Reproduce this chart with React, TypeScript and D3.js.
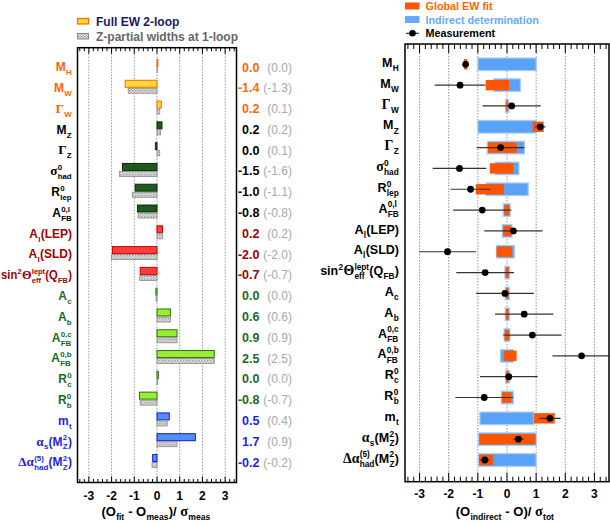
import React from 'react';
import * as d3 from 'd3';

// ---------- data ----------
const observables = [
  'M_{H}', 'M_{W}', 'Γ_{W}', 'M_{Z}', 'Γ_{Z}', 'σ^{0}_{had}', 'R^{0}_{lep}', 'A^{0,l}_{FB}',
  'A_{l}(LEP)', 'A_{l}(SLD)', 'sin^{2}Θ^{lept}_{eff}(Q_{FB})',
  'A_{c}', 'A_{b}', 'A^{0,c}_{FB}', 'A^{0,b}_{FB}', 'R^{0}_{c}', 'R^{0}_{b}',
  'm_{t}', 'α_{s}(M^{2}_{Z})', 'Δα^{(5)}_{had}(M^{2}_{Z})',
];
const groupIndex = [0, 0, 0, 1, 1, 1, 1, 1, 2, 2, 2, 3, 3, 3, 3, 3, 3, 4, 4, 4];

// left panel: pulls
const pullFull2Loop = [0.04, -1.4, 0.19, 0.22, -0.07, -1.52, -0.96, -0.86, 0.24, -1.96, -0.74, -0.05, 0.59, 0.88, 2.52, 0.06, -0.77, 0.54, 1.69, -0.19];
const pullZPartial1Loop = [0.02, -1.27, 0.12, 0.16, 0.12, -1.65, -1.08, -0.83, 0.24, -2.0, -0.76, -0.04, 0.59, 0.88, 2.52, 0.03, -0.74, 0.45, 0.88, -0.22];
const pullText = ['0.0', '-1.4', '0.2', '0.2', '0.0', '-1.5', '-1.0', '-0.8', '0.2', '-2.0', '-0.7', '0.0', '0.6', '0.9', '2.5', '0.0', '-0.8', '0.5', '1.7', '-0.2'];
const pull1LoopText = ['(0.0)', '(-1.3)', '(0.1)', '(0.2)', '(0.1)', '(-1.6)', '(-1.1)', '(-0.8)', '(0.2)', '(-2.0)', '(-0.7)', '(0.0)', '(0.6)', '(0.9)', '(2.5)', '(0.0)', '(-0.7)', '(0.4)', '(0.9)', '(-0.2)'];

// right panel: indirect determination, global fit, measurement
const indirectLo = [-1.0, -0.45, -0.05, -1.0, -0.68, -0.41, -0.72, -0.13, -0.16, -0.36, -0.07, -0.06, -0.06, -0.1, -0.22, -0.05, -0.2, -0.93, -0.98, -0.97];
const indirectHi = [1.0, 0.46, 0.06, 1.0, 0.6, 0.41, 0.73, 0.11, 0.17, 0.25, 0.09, 0.08, 0.08, 0.1, 0.22, 0.09, 0.22, 0.93, 1.0, 1.0];
const fitLo = [-1.48, -0.73, -0.03, 0.88, -0.65, -0.59, -1.07, -0.09, -0.13, -0.36, -0.05, -0.04, -0.04, -0.08, -0.1, -0.03, -0.17, 0.93, -0.95, -0.96];
const fitHi = [-1.36, 0.07, 0.04, 1.26, 0.34, 0.22, -0.1, 0.08, 0.15, 0.18, 0.06, 0.05, 0.05, 0.08, 0.33, 0.06, 0.15, 1.64, 0.98, -0.47];
const measurement = [-1.42, -1.61, 0.16, 1.14, -0.22, -1.63, -1.25, -0.85, 0.22, -2.04, -0.75, -0.07, 0.59, 0.87, 2.56, 0.06, -0.78, 1.47, 0.39, -0.76];
const measError = [0.05, 0.87, 1.0, 0.18, 0.82, 0.92, 0.69, 1.0, 1.0, 0.98, 0.99, 0.99, 1.0, 1.0, 1.0, 0.99, 0.99, 0.37, 0.18, 0.18];

const axisTicks = [-3, -2, -1, 0, 1, 2, 3];

// ---------- styles ----------
const labelColors = ['#ff6600', '#000000', '#a00000', '#1b6b1b', '#1f1fe6'];
const barFill = ['#ffd83a', '#1e5a1e', '#ff3c3c', '#99ee33', '#4f8ff7'];
const barStroke = ['#ff6600', '#0a2a0a', '#cc0000', '#2f6f0f', '#1a1acc'];
const SANS = '"Liberation Sans", Arial, Helvetica, sans-serif';
const SERIF = '"Liberation Serif", "Times New Roman", serif';

// ---------- rich text ----------
let ctx: CanvasRenderingContext2D | null = null;
function measure(text: string, font: string) {
  if (!ctx) ctx = document.createElement('canvas').getContext('2d');
  ctx!.font = font;
  return ctx!.measureText(text).width;
}
const isGreek = (c: string) => /[\u0370-\u03ff]/.test(c);

type Piece = { text: string; x: number; dy: number; size: number; family: string; weight: string };

function layout(markup: string, size: number) {
  const pieces: Piece[] = [];
  let x = 0;
  const small = size * 0.66;
  const pushMain = (s: string) => {
    let run = '';
    let runGreek = false;
    const flush = () => {
      if (!run) return;
      const fam = runGreek ? SERIF : SANS;
      const sz = runGreek ? size * 1.1 : size;
      const w = measure(run, `bold ${sz}px ${fam}`);
      pieces.push({ text: run, x, dy: 0, size: sz, family: fam, weight: 'bold' });
      x += w;
      run = '';
    };
    for (const c of s) {
      const g = isGreek(c);
      if (run && g !== runGreek) flush();
      runGreek = g;
      run += c;
    }
    flush();
  };
  let i = 0;
  let buf = '';
  while (i < markup.length) {
    const c = markup[i];
    if ((c === '^' || c === '_') && markup[i + 1] === '{') {
      pushMain(buf);
      buf = '';
      let sup = '';
      let sub = '';
      while (i < markup.length && (markup[i] === '^' || markup[i] === '_') && markup[i + 1] === '{') {
        const end = markup.indexOf('}', i);
        const content = markup.slice(i + 2, end);
        if (markup[i] === '^') sup = content; else sub = content;
        i = end + 1;
      }
      const font = `bold ${small}px ${SANS}`;
      const wSup = sup ? measure(sup, font) : 0;
      const wSub = sub ? measure(sub, font) : 0;
      if (sup) pieces.push({ text: sup, x: x + 0.3, dy: -size * 0.42, size: small, family: SANS, weight: 'bold' });
      if (sub) pieces.push({ text: sub, x: x + 0.3, dy: size * 0.33, size: small, family: SANS, weight: 'bold' });
      x += Math.max(wSup, wSub) + 0.6;
    } else {
      buf += c;
      i++;
    }
  }
  pushMain(buf);
  return { pieces, width: x };
}

function RichText({ markup, x, y, size, anchor, fill, maxWidth }: { markup: string; x: number; y: number; size: number; anchor: 'start' | 'middle' | 'end'; fill: string; maxWidth?: number }) {
  const { pieces, width } = layout(markup, size);
  const s = maxWidth && width > maxWidth ? maxWidth / width : 1;
  const w = width * s;
  const x0 = anchor === 'end' ? x - w : anchor === 'middle' ? x - w / 2 : x;
  return (
    <g transform={`translate(${x0},${y}) scale(${s},1)`}>
      {pieces.map((p, k) => (
        <text key={k} x={p.x} y={p.dy} fontSize={p.size} fontFamily={p.family} fontWeight={p.weight} fill={fill} style={{ whiteSpace: 'pre' }}>
          {p.text}
        </text>
      ))}
    </g>
  );
}

// ---------- frame with ticks ----------
function Frame({ x, top, bottom, major, minor }: { x: d3.ScaleLinear<number, number>; top: number; bottom: number; major: number; minor: number }) {
  const [d0, d1] = x.domain();
  const minors: number[] = [];
  for (let v = Math.ceil(d0 * 5) / 5; v <= d1 + 1e-9; v += 0.2) minors.push(Math.round(v * 5) / 5);
  const [r0, r1] = x.range();
  return (
    <g>
      {minors.map((v, k) => {
        const isMajor = Math.abs(v - Math.round(v)) < 1e-6;
        const len = isMajor ? major : minor;
        return (
          <g key={k}>
            <line x1={x(v)} x2={x(v)} y1={top} y2={top + len} stroke="#000" strokeWidth={1} />
            <line x1={x(v)} x2={x(v)} y1={bottom} y2={bottom - len} stroke="#000" strokeWidth={1} />
          </g>
        );
      })}
      <rect x={r0} y={top} width={r1 - r0} height={bottom - top} fill="none" stroke="#000" strokeWidth={1.5} />
    </g>
  );
}

export default function App() {
  const W = 610;
  const H = 523;
  // left panel
  const xL = d3.scaleLinear().domain([-3.5, 3.5]).range([77.5, 236.5]);
  const yL = d3.scalePoint<number>().domain(d3.range(observables.length)).range([67, 462]);
  const topL = 47.7;
  const botL = 482.5;
  // right panel
  const xR = d3.scaleLinear().domain([-3.5, 3.5]).range([405, 609]);
  const yR = d3.scalePoint<number>().domain(d3.range(observables.length)).range([64.3, 460]);
  const topR = 44;
  const botR = 481.7;

  return (
    <svg width={W} height={H} style={{ display: 'block', position: 'absolute', left: 0, top: 0, background: '#fff' }}>
      <defs>
        <pattern id="hatch" width="3" height="3" patternUnits="userSpaceOnUse">
          <rect width="3" height="3" fill="#e4e4e4" />
          <rect width="1.5" height="1.5" fill="#9a9a9a" />
          <rect x="1.5" y="1.5" width="1.5" height="1.5" fill="#b8b8b8" />
        </pattern>
        <clipPath id="clipR">
          <rect x={xR.range()[0]} y={topR} width={xR.range()[1] - xR.range()[0]} height={botR - topR} />
        </clipPath>
      </defs>
      <rect width={W} height={H} fill="#fff" />

      {/* ================= LEFT PANEL ================= */}
      <rect x={77.5} y={18.5} width={11} height={5.5} fill={barFill[0]} stroke={barStroke[0]} strokeWidth={1.2} />
      <text x={96} y={25.5} fontSize={12} fontWeight="bold" fontFamily={SANS} fill="#1a1a66">Full EW 2-loop</text>
      <rect x={77.5} y={33.5} width={11} height={5.5} fill="url(#hatch)" stroke="#888" strokeWidth={1} />
      <text x={96} y={41} fontSize={12} fontWeight="bold" fontFamily={SANS} fill="#666">Z-partial widths at 1-loop</text>

      {axisTicks.map((t) => (
        <line key={t} x1={xL(t)} x2={xL(t)} y1={topL} y2={botL} stroke="#777" strokeWidth={0.8} strokeDasharray="1.5,1.5" />
      ))}
      {observables.map((_, i) => {
        const c = yL(i)!;
        const g = groupIndex[i];
        const v = pullFull2Loop[i];
        const v1 = pullZPartial1Loop[i];
        return (
          <g key={i}>
            <rect x={Math.min(xL(0), xL(v))} y={c - 7.5} width={Math.abs(xL(v) - xL(0))} height={7} fill={barFill[g]} stroke={barStroke[g]} strokeWidth={1} />
            <rect x={Math.min(xL(0), xL(v1))} y={c + 0.5} width={Math.abs(xL(v1) - xL(0))} height={5} fill="url(#hatch)" stroke="#8a8a8a" strokeWidth={0.8} />
          </g>
        );
      })}
      <Frame x={xL} top={topL} bottom={botL} major={6} minor={3.5} />
      {observables.map((name, i) => {
        const c = yL(i)!;
        const g = groupIndex[i];
        return (
          <g key={i}>
            <RichText markup={name} x={72} y={c + 4.3} size={12} anchor="end" fill={labelColors[g]} maxWidth={71} />
            <text x={259.5} y={c + 4.5} textAnchor="end" fontSize={12.5} fontWeight="bold" fontFamily={SANS} fill={labelColors[g]}>{pullText[i]}</text>
            <text x={292} y={c + 4.5} textAnchor="end" fontSize={12} fontFamily={SANS} fill="#a8a8a8">{pull1LoopText[i]}</text>
          </g>
        );
      })}
      {axisTicks.map((t) => (
        <text key={t} x={xL(t)} y={499.5} textAnchor="middle" fontSize={12} fontWeight="bold" fontFamily={SANS} fill="#000">{String(t)}</text>
      ))}
      <RichText markup="(O_{fit} - O_{meas})/ σ_{meas}" x={156} y={515.5} size={13} anchor="middle" fill="#000" />

      {/* ================= RIGHT PANEL ================= */}
      <rect x={405} y={2.5} width={14.5} height={7} fill="#ff5500" />
      <text x={425.5} y={10} fontSize={10.8} fontWeight="bold" fontFamily={SANS} fill="#ff6600">Global EW fit</text>
      <rect x={405} y={16} width={14.5} height={7} fill="#66aaff" />
      <text x={425.5} y={23.5} fontSize={10.8} fontWeight="bold" fontFamily={SANS} fill="#66aaff">Indirect determination</text>
      <line x1={406} x2={419} y1={33.3} y2={33.3} stroke="#333" strokeWidth={1.2} />
      <circle cx={412.5} cy={33.3} r={3.3} fill="#000" />
      <text x={425.5} y={37.3} fontSize={10.8} fontWeight="bold" fontFamily={SANS} fill="#000">Measurement</text>

      {axisTicks.map((t) => (
        <line key={t} x1={xR(t)} x2={xR(t)} y1={topR} y2={botR} stroke="#777" strokeWidth={0.8} strokeDasharray="1.5,1.5" />
      ))}
      <g clipPath="url(#clipR)">
        {observables.map((_, i) => {
          const c = yR(i)!;
          return (
            <g key={i}>
              <rect x={xR(indirectLo[i])} y={c - 6.3} width={xR(indirectHi[i]) - xR(indirectLo[i])} height={12.6} fill="#5aa2f6" stroke="#a9cdf7" strokeWidth={1.2} />
              <rect x={xR(fitLo[i])} y={c - 5.2} width={xR(fitHi[i]) - xR(fitLo[i])} height={10.4} fill="#ff5500" />
              <line x1={xR(measurement[i] - measError[i])} x2={xR(measurement[i] + measError[i])} y1={c} y2={c} stroke="#333" strokeWidth={1.2} />
              <circle cx={xR(measurement[i])} cy={c} r={3.4} fill="#000" />
            </g>
          );
        })}
      </g>
      <Frame x={xR} top={topR} bottom={botR} major={9} minor={5} />
      {observables.map((name, i) => (
        <RichText key={i} markup={name} x={399} y={yR(i)! + 2.6} size={12.5} anchor="end" fill="#000" />
      ))}
      {axisTicks.map((t) => (
        <text key={t} x={xR(t)} y={498} textAnchor="middle" fontSize={12} fontWeight="bold" fontFamily={SANS} fill="#000">{String(t)}</text>
      ))}
      <RichText markup="(O_{indirect} - O)/ σ_{tot}" x={505} y={515.5} size={13} anchor="middle" fill="#000" />
    </svg>
  );
}
